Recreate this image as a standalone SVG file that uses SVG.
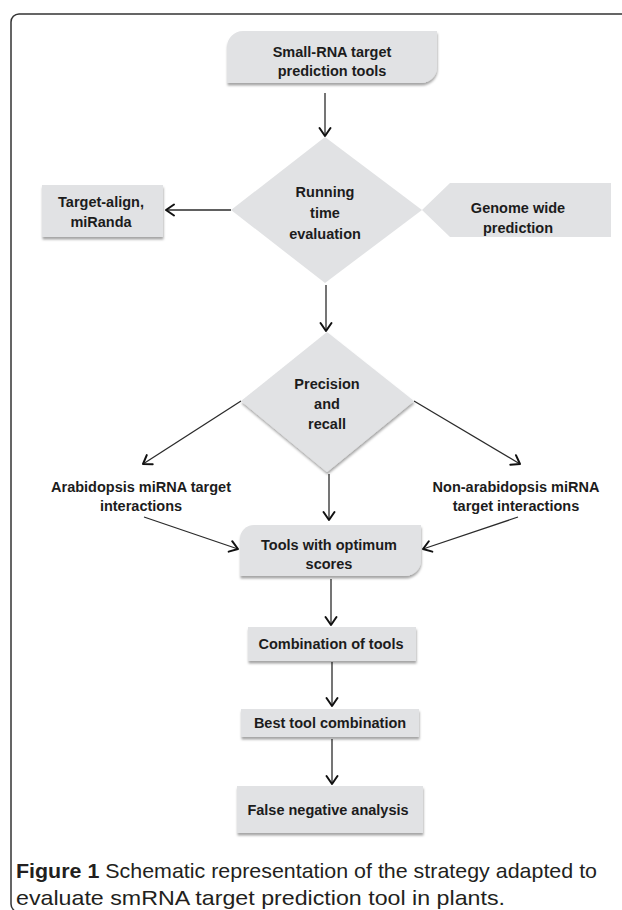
<svg xmlns="http://www.w3.org/2000/svg" width="622" height="910" viewBox="0 0 622 910">
<defs>
<style>
.lbl{font-family:"Liberation Sans",Arial,sans-serif;font-weight:bold;font-size:14.5px;fill:#1c1c1c;text-anchor:middle}
.node{fill:#e1e2e4}
.sh{filter:url(#shadow)}
.edge{stroke:#2b2b2b;stroke-width:1.3;fill:none;marker-end:url(#arr)}
.cap{font-family:"Liberation Sans",Arial,sans-serif;font-size:21px;fill:#231f20}
</style>
<filter id="shadow" x="-10%" y="-10%" width="125%" height="140%"><feDropShadow dx="0.5" dy="2.5" stdDeviation="1.2" flood-color="#000" flood-opacity="0.35"/></filter>
<marker id="arr" markerUnits="userSpaceOnUse" markerWidth="14" markerHeight="14" refX="10" refY="7" orient="auto"><path d="M2,1.5 L10,7 L2,12.5" fill="none" stroke="#111" stroke-width="2" stroke-linecap="round" stroke-linejoin="round"/></marker>
</defs>
<rect id="frame" x="11" y="14" width="700" height="898" rx="8" fill="none" stroke="#333" stroke-width="1.5"/>
<g id="connectors">
<path class="edge" d="M325,93 V136"/>
<path class="edge" d="M231,210 H166"/>
<path class="edge" d="M326,285 V331"/>
<path class="edge" d="M241,401 L143,464"/>
<path class="edge" d="M414,401 L520,464"/>
<path class="edge" d="M329,474 V520"/>
<path class="edge" d="M144,517 L238,549"/>
<path class="edge" d="M518,517 L423,549"/>
<path class="edge" d="M331,579 V625"/>
<path class="edge" d="M332,662 V706"/>
<path class="edge" d="M332,739 V784"/>
</g>
<g id="n-small-rna"><path class="node sh" d="M227,83 V47 A16,16 0 0 1 243,31 H437 V67 A16,16 0 0 1 421,83 Z"/><text class="lbl" x="332" y="57">Small-RNA target</text><text class="lbl" x="332" y="76">prediction tools</text></g>
<g id="n-running"><polygon class="node" points="325,137 422,210 325,283 231,210"/><text class="lbl" x="325" y="197">Running</text><text class="lbl" x="325" y="218">time</text><text class="lbl" x="325" y="239">evaluation</text></g>
<g id="n-target-align"><rect class="node sh" x="42" y="185" width="121" height="52"/><text class="lbl" x="101" y="207">Target-align,</text><text class="lbl" x="101" y="227">miRanda</text></g>
<g id="n-genome"><polygon class="node" points="422,210 450,183 611,183 611,237 450,237"/><text class="lbl" x="518" y="213">Genome wide</text><text class="lbl" x="518" y="233">prediction</text></g>
<g id="n-precision"><polygon class="node sh" points="327,332 414,401 327,472 241,401"/><text class="lbl" x="327" y="389">Precision</text><text class="lbl" x="327" y="409">and</text><text class="lbl" x="327" y="429">recall</text></g>
<g id="n-arabidopsis"><text class="lbl" x="141" y="492">Arabidopsis miRNA target</text><text class="lbl" x="141" y="511">interactions</text></g>
<g id="n-non-arabidopsis"><text class="lbl" x="516" y="492">Non-arabidopsis miRNA</text><text class="lbl" x="516" y="511">target interactions</text></g>
<g id="n-tools"><path class="node sh" d="M240,576 V539 A14,14 0 0 1 254,525 H421 V560 A16,16 0 0 1 405,576 Z"/><text class="lbl" x="329" y="550">Tools with optimum</text><text class="lbl" x="329" y="569">scores</text></g>
<g id="n-combination"><rect class="node sh" x="248" y="627" width="168" height="34"/><text class="lbl" x="331" y="649">Combination of tools</text></g>
<g id="n-best"><rect class="node sh" x="241" y="709" width="178" height="28"/><text class="lbl" x="330" y="728">Best tool combination</text></g>
<g id="n-false-negative"><rect class="node sh" x="237" y="786" width="186" height="47"/><text class="lbl" x="328" y="815">False negative analysis</text></g>
<g id="caption">
<text class="cap" x="16" y="878" textLength="581" lengthAdjust="spacingAndGlyphs"><tspan font-weight="bold">Figure 1</tspan> Schematic representation of the strategy adapted to</text>
<text class="cap" x="16" y="905" textLength="489" lengthAdjust="spacingAndGlyphs">evaluate smRNA target prediction tool in plants.</text>
</g>
</svg>
